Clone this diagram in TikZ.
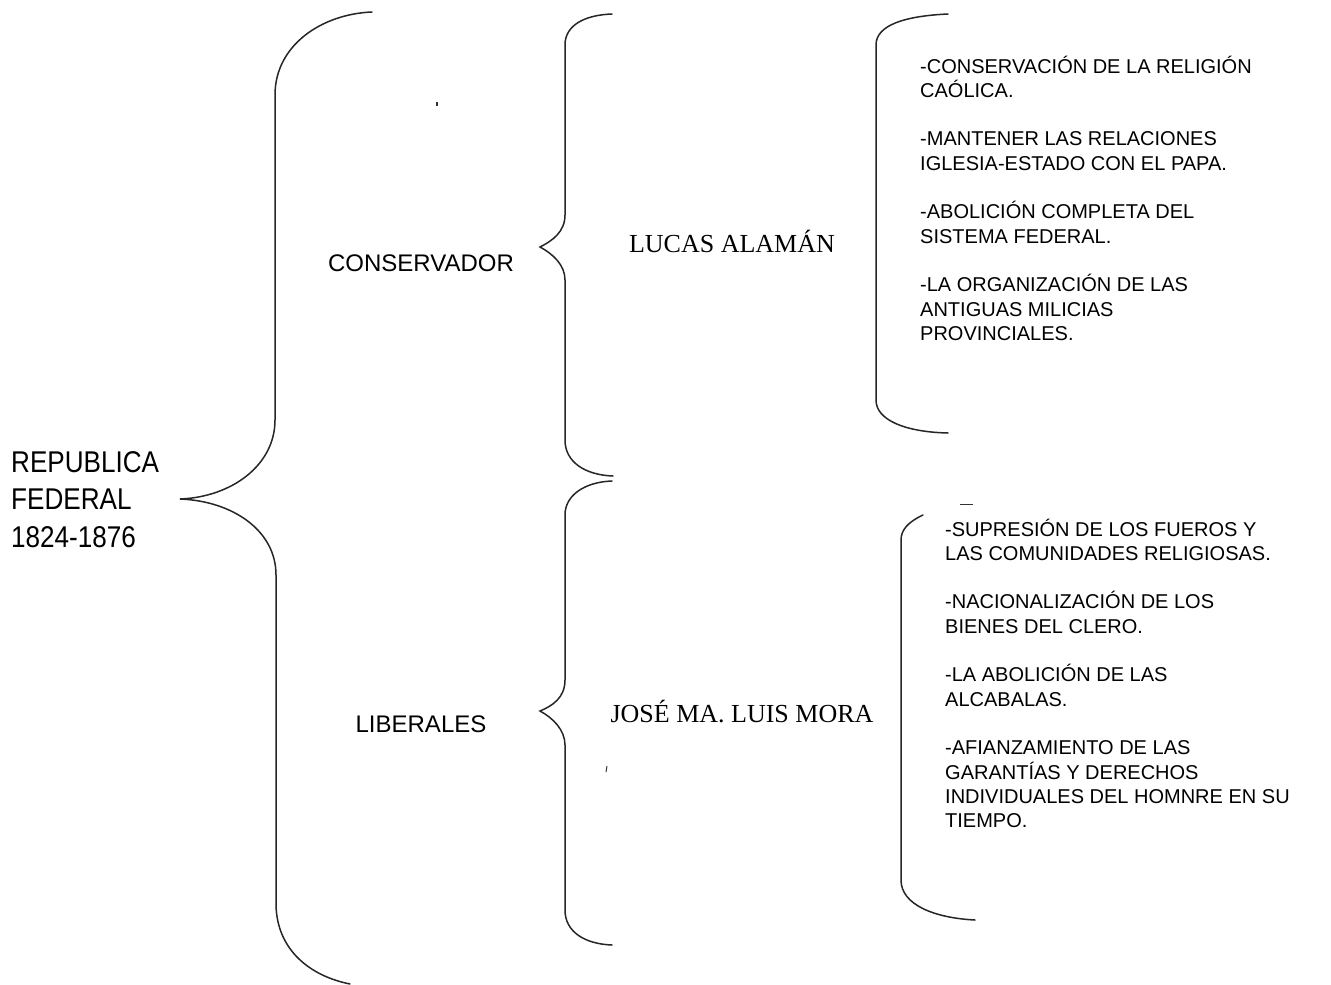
\documentclass[tikz,border=0pt]{standalone}
\usepackage{fontspec}
\setmainfont{Liberation Serif}
\newfontfamily\arialf{Liberation Sans}
\begin{document}
\begin{tikzpicture}[x=1pt,y=-1pt,
  brace/.style={line width=1.5pt, draw=black!85, line cap=round},
  sanslbl/.style={font=\arialf\fontsize{24}{29}\selectfont, inner sep=0pt},
  seriflbl/.style={font=\fontsize{26}{31}\selectfont, inner sep=0pt, anchor=base},
  listblock/.style={font=\arialf\fontsize{20}{24.3}\selectfont, align=left, anchor=base west, inner sep=0pt}
]
\useasboundingbox (0,0) rectangle (1331,985);

% texts (base anchor = baseline of the last line)
\node[font=\arialf\fontsize{30}{37.5}\selectfont, align=left, anchor=base west, inner sep=0pt] (rep) at (11,547)
  {\scalebox{0.87}[1]{REPUBLICA}\\\scalebox{0.87}[1]{FEDERAL}\\\scalebox{0.87}[1]{1824-1876}};
\node[sanslbl] (cons) at (421,263) {CONSERVADOR};
\node[sanslbl] (lib) at (421,724) {LIBERALES};
\node[seriflbl] (lucas) at (732,252) {LUCAS ALAMÁN};
\node[seriflbl] (mora) at (742,722) {JOSÉ MA. LUIS MORA};

\node[listblock] (consl) at (920,340.3) {-CONSERVACIÓN DE LA RELIGIÓN\\CAÓLICA.\\[24.3pt]-MANTENER LAS RELACIONES\\IGLESIA-ESTADO CON EL PAPA.\\[24.3pt]-ABOLICIÓN COMPLETA DEL\\SISTEMA FEDERAL.\\[24.3pt]-LA ORGANIZACIÓN DE LAS\\ANTIGUAS MILICIAS\\PROVINCIALES.};
\node[listblock] (libl) at (945,827.6) {-SUPRESIÓN DE LOS FUEROS Y\\LAS COMUNIDADES RELIGIOSAS.\\[24.3pt]-NACIONALIZACIÓN DE LOS\\BIENES DEL CLERO.\\[24.3pt]-LA ABOLICIÓN DE LAS\\ALCABALAS.\\[24.3pt]-AFIANZAMIENTO DE LAS\\GARANTÍAS Y DERECHOS\\INDIVIDUALES DEL HOMNRE EN SU\\TIEMPO.};

% big brace
\draw[brace] (372,12) .. controls (322,14) and (275,45) .. (275,95)
  -- (275,420) .. controls (275,465) and (232,497) .. (180,499)
  .. controls (232,501) and (276,530) .. (276,575)
  -- (276,905) .. controls (277,950) and (310,976) .. (350,984);

% conservador brace
\draw[brace] (612,14) .. controls (585,15) and (565,25) .. (565,45)
  -- (565,215) .. controls (565,232) and (552,241) .. (540,247)
  .. controls (553,254) and (565,265) .. (565,280)
  -- (565,440) .. controls (565,462) and (585,475) .. (613,476);

% liberales brace
\draw[brace] (612,481) .. controls (585,482) and (565,495) .. (565,515)
  -- (565,680) .. controls (565,698) and (552,706) .. (540,711)
  .. controls (553,718) and (565,730) .. (565,745)
  -- (565,910) .. controls (565,932) and (585,944) .. (612,945);

% right brackets
\draw[brace] (948,14) .. controls (905,16) and (876,25) .. (876,45)
  -- (876,400) .. controls (876,420) and (905,432) .. (948,433);
\draw[brace] (923,515) .. controls (908,522) and (901,530) .. (901,540)
  -- (901,880) .. controls (901,905) and (935,918) .. (975,920);

% small stray marks
\fill[black!80] (436,102) rectangle (438,106);
\draw[line width=1pt, black!80] (607,766) -- (606,772);
\draw[line width=1pt, black!80] (960,504) -- (973,504);
\end{tikzpicture}
\end{document}
